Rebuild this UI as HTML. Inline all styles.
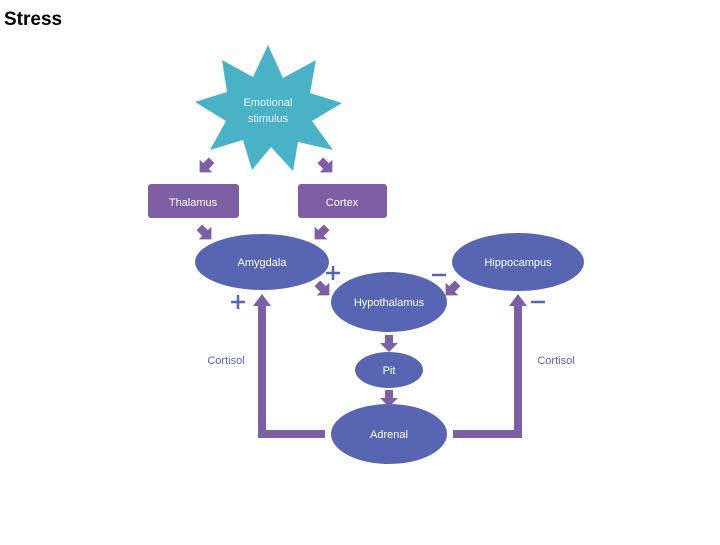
<!DOCTYPE html>
<html><head><style>body{margin:0;width:720px;height:540px;background:#fff;overflow:hidden}</style></head>
<body>
<svg width="720" height="540" xmlns="http://www.w3.org/2000/svg" font-family="Liberation Sans, sans-serif">
<text x="4" y="25" font-size="19" font-weight="bold" fill="#000">Stress</text>
<defs>
<g id="da"><path d="M-4,-8 L4,-8 L4,0 L9,0 L0,9 L-9,0 L-4,0 Z" fill="#7f5fa3"/></g>
</defs>
<polygon fill="#49b2c7" points="268,45 283,78 316,60 310,93 342,103 312,121 333,150 298,142 293,171 271,147 252,170 243,140 210,150 226,121 195,102 227,92 222,60 253,77"/>
<text x="268" y="106" font-size="11" fill="#e8f6fa" text-anchor="middle">Emotional</text>
<text x="268" y="122" font-size="11" fill="#e8f6fa" text-anchor="middle">stimulus</text>
<use href="#da" transform="translate(206,166) rotate(45)"/>
<use href="#da" transform="translate(326,166) rotate(-45)"/>
<rect x="148" y="184" width="91" height="34" rx="3" fill="#7f5fa3"/>
<rect x="298" y="184" width="89" height="34" rx="3" fill="#7f5fa3"/>
<text x="193" y="206" font-size="11" fill="#fff" text-anchor="middle">Thalamus</text>
<text x="342" y="206" font-size="11" fill="#fff" text-anchor="middle">Cortex</text>
<use href="#da" transform="translate(205,233) rotate(-45)"/>
<use href="#da" transform="translate(321,233) rotate(45)"/>
<ellipse cx="262" cy="262" rx="67" ry="28" fill="#5865b3"/>
<ellipse cx="518" cy="262" rx="66" ry="29" fill="#5865b3"/>
<ellipse cx="389" cy="302" rx="58" ry="30" fill="#5865b3"/>
<ellipse cx="389" cy="370" rx="34" ry="18" fill="#5865b3"/>
<ellipse cx="389" cy="434" rx="58" ry="30" fill="#5865b3"/>
<text x="262" y="266" font-size="11" fill="#fff" text-anchor="middle">Amygdala</text>
<text x="518" y="266" font-size="11" fill="#fff" text-anchor="middle">Hippocampus</text>
<text x="389" y="306" font-size="11" fill="#fff" text-anchor="middle">Hypothalamus</text>
<text x="389" y="374" font-size="11" fill="#fff" text-anchor="middle">Pit</text>
<text x="389" y="438" font-size="11" fill="#fff" text-anchor="middle">Adrenal</text>
<use href="#da" transform="translate(323,289) rotate(-45)"/>
<use href="#da" transform="translate(452,289) rotate(45)"/>
<use href="#da" transform="translate(389,343)"/>
<use href="#da" transform="translate(389,398)"/>
<path d="M325,434 H262 V305" fill="none" stroke="#7f5fa3" stroke-width="8"/>
<path d="M253,306 L262,294 L271,306 Z" fill="#7f5fa3"/>
<path d="M453,434 H518 V305" fill="none" stroke="#7f5fa3" stroke-width="8"/>
<path d="M509,306 L518,294 L527,306 Z" fill="#7f5fa3"/>
<g stroke="#5865b3" stroke-width="2.5">
<path d="M231,302 h14 M238,295 v14"/>
<path d="M326,273 h14 M333,266 v14"/>
<path d="M432,275 h14"/>
<path d="M531,302 h14"/>
</g>
<text x="226" y="364" font-size="11" fill="#5865b3" text-anchor="middle">Cortisol</text>
<text x="556" y="364" font-size="11" fill="#5865b3" text-anchor="middle">Cortisol</text>
</svg>
</body></html>
